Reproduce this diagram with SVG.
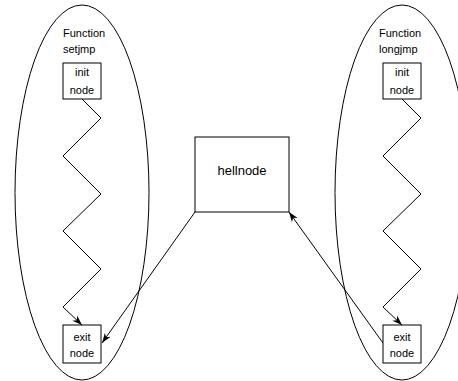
<svg xmlns="http://www.w3.org/2000/svg" width="458" height="381" viewBox="0 0 458 381">
<defs>
<style>
.sh{fill:none;stroke:#000;stroke-width:1}
.bx{fill:#fff;stroke:#000;stroke-width:1}
.t{font-family:"Liberation Sans",Arial,sans-serif;font-size:11px;fill:#000}
.c{text-anchor:middle}
.ln{fill:none;stroke:#000;stroke-width:1;marker-end:url(#ah)}
</style>
<marker id="ah" viewBox="0 0 10 8" refX="10" refY="4" markerWidth="10" markerHeight="8" markerUnits="userSpaceOnUse" orient="auto">
<path d="M0,0.5 L10,4 L0,7.5 L3,4 Z" fill="#000"/>
</marker>
</defs>
<rect width="458" height="381" fill="#fff"/>
<g id="setjmp">
<ellipse class="sh" cx="82" cy="192.5" rx="67" ry="187.5"/>
<text class="t" x="63" y="37">Function</text>
<text class="t" x="63" y="53">setjmp</text>
</g>
<g id="longjmp">
<ellipse class="sh" cx="402" cy="192.5" rx="67" ry="187.5"/>
<text class="t" x="379" y="37">Function</text>
<text class="t" x="379" y="53">longjmp</text>
</g>
<g id="connectors">
<polyline class="ln" points="82,99 101,118 63,156 101,194 63,231 101,269 63,307 82,325"/>
<polyline class="ln" points="402,99 421,118 383,156 421,194 383,231 421,269 383,307 402,325"/>
<line class="ln" x1="195" y1="212" x2="102" y2="343"/>
<line class="ln" x1="383" y1="343" x2="289" y2="212"/>
</g>
<g id="init1">
<rect class="bx" x="63" y="63" width="38" height="36"/>
<text class="t c" x="82" y="76">init</text>
<text class="t c" x="82" y="94">node</text>
</g>
<g id="exit1">
<rect class="bx" x="63" y="325" width="38" height="38"/>
<text class="t c" x="82" y="341">exit</text>
<text class="t c" x="82" y="357">node</text>
</g>
<g id="init2">
<rect class="bx" x="383" y="63" width="38" height="36"/>
<text class="t c" x="402" y="76">init</text>
<text class="t c" x="402" y="94">node</text>
</g>
<g id="exit2">
<rect class="bx" x="383" y="325" width="38" height="38"/>
<text class="t c" x="402" y="341">exit</text>
<text class="t c" x="402" y="357">node</text>
</g>
<g id="hellnode">
<rect class="bx" x="195" y="137" width="94" height="75"/>
<text class="t c" x="242" y="175" style="font-size:13px">hellnode</text>
</g>
</svg>
